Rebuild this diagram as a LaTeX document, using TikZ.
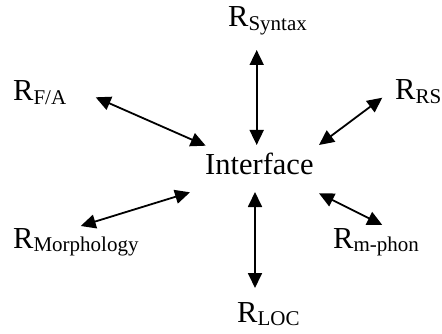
\documentclass[tikz,border=0pt]{standalone}
\usepackage{fontspec}
\setmainfont{Liberation Serif}
\usetikzlibrary{arrows.meta}
\newcommand{\Rsub}[1]{R\raisebox{-3.5pt}{\fontsize{21}{24}\selectfont #1}}
\begin{document}
\begin{tikzpicture}[x=1pt,y=-1pt,
  lbl/.style={anchor=base west,inner sep=0pt,font=\fontsize{30.5}{36}\selectfont},
  link/.style={line width=1.8pt,{Triangle[length=15pt,width=14pt]}-{Triangle[length=15pt,width=14pt]}}]
\useasboundingbox (0,0) rectangle (442,334);
\node[lbl] (iface) at (205,175) {Interface};
\node[lbl] (syn) at (228,27) {\Rsub{Syntax}};
\node[lbl] (fa) at (13,101) {\Rsub{F/A}};
\node[lbl] (rs) at (395,100) {\Rsub{RS}};
\node[lbl] (mor) at (13,248) {\Rsub{Morphology}};
\node[lbl] (mph) at (333,248) {\Rsub{m-phon}};
\node[lbl] (loc) at (237,322) {\Rsub{LOC}};
\coordinate (synE) at (256.7,50);
\coordinate (synI) at (256.7,145);
\coordinate (faE) at (95.7,97.3);
\coordinate (faI) at (205.7,145.7);
\coordinate (rsE) at (382.3,97.7);
\coordinate (rsI) at (319,145);
\coordinate (morE) at (80.7,226);
\coordinate (morI) at (190,192.3);
\coordinate (mphI) at (319,193.3);
\coordinate (mphE) at (382.3,225);
\coordinate (locI) at (255,192);
\coordinate (locE) at (255,288);
\draw[link] (synE) -- (synI);
\draw[link] (faE) -- (faI);
\draw[link] (rsE) -- (rsI);
\draw[link] (morE) -- (morI);
\draw[link] (mphI) -- (mphE);
\draw[link] (locI) -- (locE);
\end{tikzpicture}
\end{document}
